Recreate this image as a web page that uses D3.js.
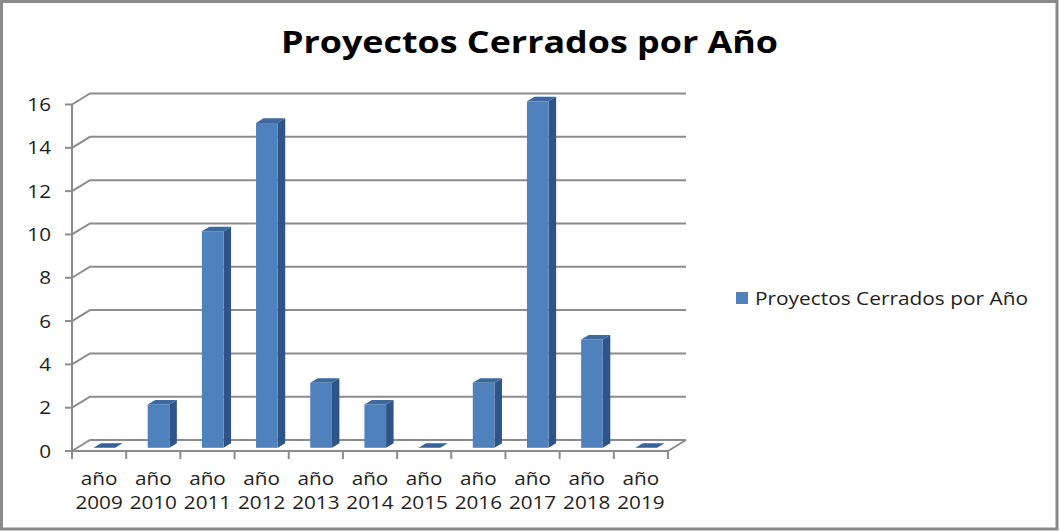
<!DOCTYPE html>
<html>
<head>
<meta charset="utf-8">
<script src="https://cdn.jsdelivr.net/npm/d3@7"></script>
<style>
  html, body { margin: 0; padding: 0; background: #fff; }
  svg { display: block; }
  text { font-family: "Open Sans", "Liberation Sans", Arial, sans-serif; }
</style>
</head>
<body>
<svg id="chart" width="1060" height="531"></svg>
<script>
// ---- data ----
const categories = ["año 2009", "año 2010", "año 2011", "año 2012", "año 2013", "año 2014",
                    "año 2015", "año 2016", "año 2017", "año 2018", "año 2019"];
const values = [0, 2, 10, 15, 3, 2, 0, 3, 16, 5, 0];
const yTicks = [0, 2, 4, 6, 8, 10, 12, 14, 16];
const seriesName = "Proyectos Cerrados por Año";
const chartTitle = "Proyectos Cerrados por Año";

// ---- layout ----
const W = 1060, H = 531;
const svg = d3.select("#chart");
const gridColor = "#8c8c8c";
const textColor = "#1e1e1e";
const stretch = 1.15;   // horizontal text stretch seen in reference

const x = d3.scaleBand().domain(categories).range([72, 668]).padding(0);
const y = d3.scaleLinear().domain([0, 16]).range([451, 104.5]);
const DX = 18, DY = -11;          // wall depth
const bw = x.bandwidth() * 0.4;   // bar front width
const bdx = 7.5, bdy = -4.6;      // bar depth
const ox = (DX - bdx) / 2, oy = (DY - bdy) / 2; // bar front offset inside floor

// outer border
svg.append("rect").attr("x", 1.5).attr("y", 1.5).attr("width", W - 4.5).attr("height", H - 3.5)
  .attr("fill", "#fff").attr("stroke", "#8a8a8a").attr("stroke-width", 3);

// title
svg.append("text").attr("x", 281).attr("y", 53)
  .attr("font-size", 31).attr("font-weight", "bold")
  .attr("textLength", 497).attr("lengthAdjust", "spacingAndGlyphs")
  .attr("fill", "#000").text(chartTitle);

// gridlines (side wall diagonal + back wall)
const grid = svg.append("g").attr("fill", "none").attr("stroke", gridColor).attr("stroke-width", 2);
yTicks.forEach(v => {
  const yy = y(v);
  grid.append("path").attr("d", `M${x.range()[0]},${yy} L${x.range()[0] + DX},${yy + DY} L${x.range()[1] + DX},${yy + DY}`);
});
// floor front and right edges
grid.append("path").attr("d",
  `M${x.range()[0]},${y(0)} L${x.range()[1]},${y(0)} L${x.range()[1] + DX},${y(0) + DY}`);

// bars
const bars = svg.append("g");
categories.forEach((c, i) => {
  const v = values[i];
  const bx = x(c) + x.bandwidth() / 2 - bw / 2 + ox;
  const yTop = y(v) + oy;
  const yBot = y(0) + oy;
  const g = bars.append("g");
  if (v > 0) {
    g.append("path").attr("fill", "#2f5487")
      .attr("d", `M${bx + bw},${yTop} L${bx + bw + bdx},${yTop + bdy} L${bx + bw + bdx},${yBot + bdy} L${bx + bw},${yBot} Z`);
    g.append("rect").attr("x", bx).attr("y", yTop).attr("width", bw).attr("height", yBot - yTop)
      .attr("fill", "#4f81bd");
  }
  g.append("path").attr("fill", v > 0 ? "#3d68a0" : "#36619a")
    .attr("d", `M${bx},${yTop} L${bx + bdx},${yTop + bdy} L${bx + bw + bdx},${yTop + bdy} L${bx + bw},${yTop} Z`);
});

// value axis
const ax = svg.append("g").attr("stroke", gridColor).attr("stroke-width", 2).attr("fill", "none");
ax.append("line").attr("x1", 72).attr("x2", 72).attr("y1", y(16)).attr("y2", y(0));
yTicks.forEach(v => {
  ax.append("line").attr("x1", 65).attr("x2", 72).attr("y1", y(v)).attr("y2", y(v));
});
svg.append("g").selectAll("text").data(yTicks).join("text")
  .attr("transform", d => `translate(51,${y(d) + 6.5}) scale(${stretch},1)`)
  .attr("text-anchor", "end").attr("font-size", 18).attr("fill", textColor)
  .text(d => d);

// category axis ticks
const edges = categories.map(c => x(c)).concat([x.range()[1]]);
edges.forEach(e => {
  ax.append("line").attr("x1", e).attr("x2", e).attr("y1", y(0)).attr("y2", y(0) + 8);
});
const lab = svg.append("g").attr("font-size", 18).attr("fill", textColor).attr("text-anchor", "middle");
categories.forEach(c => {
  const parts = c.split(" ");
  const cx = x(c) + x.bandwidth() / 2;
  parts.forEach((p, j) => {
    lab.append("text").attr("transform", `translate(${cx},${485 + j * 24}) scale(${stretch},1)`).text(p);
  });
});

// legend
svg.append("rect").attr("x", 736).attr("y", 292).attr("width", 12).attr("height", 12).attr("fill", "#4f81bd");
svg.append("text").attr("x", 755).attr("y", 304.5)
  .attr("font-size", 18).attr("fill", textColor)
  .attr("textLength", 273).attr("lengthAdjust", "spacingAndGlyphs")
  .text(seriesName);
</script>
</body>
</html>
